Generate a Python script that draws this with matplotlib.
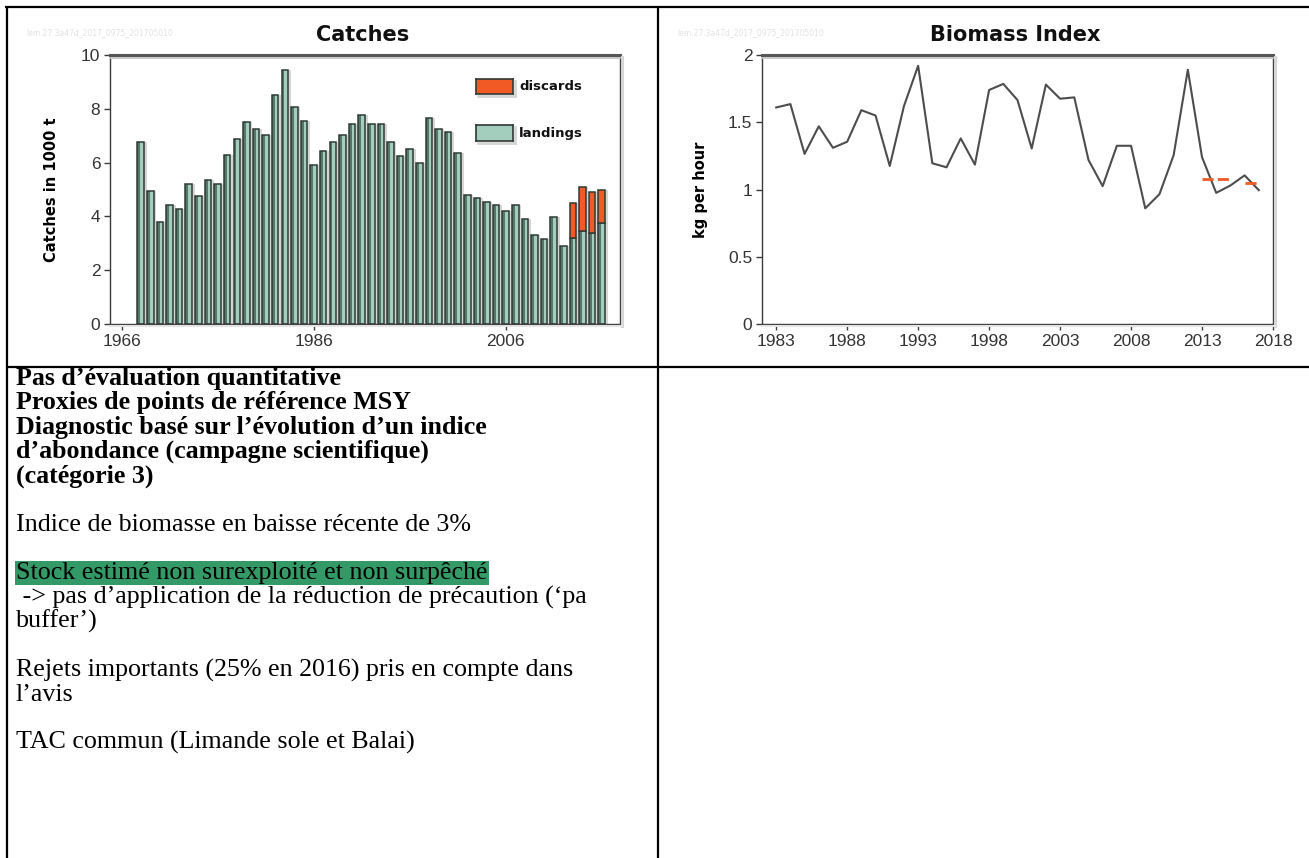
import numpy as np
import matplotlib.pyplot as plt
from matplotlib import font_manager
from matplotlib.lines import Line2D

# catches (1000 t)
catch_years = np.arange(1968, 2017)
landings = [6.75, 4.95, 3.81, 4.43, 4.27, 5.20, 4.74, 5.36, 5.22, 6.27,
            6.89, 7.50, 7.26, 7.02, 8.50, 9.46, 8.07, 7.56, 5.90, 6.44,
            6.75, 7.03, 7.45, 7.77, 7.43, 7.43, 6.75, 6.25, 6.49, 6.00,
            7.67, 7.26, 7.15, 6.37, 4.80, 4.69, 4.53, 4.43, 4.20, 4.43,
            3.90, 3.32, 3.16, 3.96, 2.91, 3.19, 3.44, 3.38, 3.75]
discard_years = [2013, 2014, 2015, 2016]
discards = [1.29, 1.67, 1.51, 1.25]
catch_xticks = [1966, 1986, 2006]
catch_yticks = [0, 2, 4, 6, 8, 10]

# survey biomass index (kg per hour)
index_years = np.arange(1983, 2018)
biomass = [1.61, 1.635, 1.265, 1.47, 1.31, 1.355, 1.59, 1.55, 1.175, 1.62,
           1.92, 1.195, 1.165, 1.38, 1.185, 1.74, 1.785, 1.665, 1.305, 1.78,
           1.675, 1.685, 1.22, 1.025, 1.325, 1.325, 0.86, 0.965, 1.255, 1.89,
           1.24, 0.975, 1.03, 1.105, 0.995]
index_xticks = [1983, 1988, 1993, 1998, 2003, 2008, 2013, 2018]
index_yticks = [0, 0.5, 1, 1.5, 2]
index_ylabels = ["0", "0.5", "1", "1.5", "2"]

stamp = "lem.27.3a47d_2017_0975_201705010"

# text of the advice summary cell: (line, bold, highlighted)
summary = [
    ("Pas d’évaluation quantitative", True, False),
    ("Proxies de points de référence MSY", True, False),
    ("Diagnostic basé sur l’évolution d’un indice", True, False),
    ("d’abondance (campagne scientifique)", True, False),
    ("(catégorie 3)", True, False),
    ("", False, False),
    ("Indice de biomasse en baisse récente de 3%", False, False),
    ("", False, False),
    ("Stock estimé non surexploité et non surpêché", False, True),
    (" -> pas d’application de la réduction de précaution (‘pa", False, False),
    ("buffer’)", False, False),
    ("", False, False),
    ("Rejets importants (25% en 2016) pris en compte dans", False, False),
    ("l’avis", False, False),
    ("", False, False),
    ("TAC commun (Limande sole et Balai)", False, False),
]

W, H = 1309, 858
installed = {f.name for f in font_manager.fontManager.ttflist}
narrow = next((f for f in ["Liberation Sans Narrow", "Liberation Sans"]
               if f in installed), "DejaVu Sans")

LIGHT = "#a3cebd"
DARK = "#55776a"
EDGE = "#2f3a35"
ORANGE = "#f15a24"
SHADOW = "#d6d6d6"

fig = plt.figure(figsize=(W / 100, H / 100), dpi=100)


def rect(x0, y0, x1, y1):
    return [x0 / W, 1 - y1 / H, (x1 - x0) / W, (y1 - y0) / H]


def fig_line(x0, y0, x1, y1, **kw):
    fig.add_artist(Line2D([x0 / W, x1 / W], [1 - y0 / H, 1 - y1 / H],
                          transform=fig.transFigure, **kw))


def style_frame(ax, box):
    x0, y0, x1, y1 = box
    for side in ["left", "bottom", "right"]:
        ax.spines[side].set_color("#3a3a3a")
        ax.spines[side].set_linewidth(1.0)
    ax.spines["top"].set_color("#555555")
    ax.spines["top"].set_linewidth(2.2)
    # soft drop shadow on the frame
    fig_line(x0, y0 + 2.5, x1, y0 + 2.5, color="#c4c4c4", lw=1.3)
    fig_line(x1 + 2, y0 + 2, x1 + 2, y1 + 2, color=SHADOW, lw=2.2)
    fig_line(x0, y1 + 2, x1 + 2, y1 + 2, color="#e4e4e4", lw=1.5)
    ax.tick_params(length=4, width=1, color="#3a3a3a", labelcolor="#333333",
                   pad=3)
    for lab in ax.get_xticklabels() + ax.get_yticklabels():
        lab.set_fontfamily(narrow)
        lab.set_fontsize(12.5)


# ---- Catches ----
cbox = (110, 55, 620, 324)
ax = fig.add_axes(rect(*cbox))
w = 0.68
totals = np.array(landings, dtype=float)
land_d = [landings[list(catch_years).index(y)] for y in discard_years]
tot_d = [l + d for l, d in zip(land_d, discards)]
ax.bar(catch_years + 0.28, totals, width=w, color=SHADOW, zorder=1)
ax.bar(np.array(discard_years) + 0.28, tot_d, width=w, color=SHADOW, zorder=1)
ax.bar(catch_years - w / 2, totals, width=w * 0.45, align="edge", color=DARK,
       zorder=2)
ax.bar(catch_years - w / 2 + w * 0.45, totals, width=w * 0.55, align="edge",
       color=LIGHT, zorder=2)
ax.bar(catch_years, totals, width=w, facecolor="none", edgecolor=EDGE,
       linewidth=1.1, zorder=3)
ax.bar(discard_years, discards, bottom=land_d, width=w, color=ORANGE,
       edgecolor=EDGE, linewidth=1.1, zorder=3)
ax.set_xlim(1964.8, 2017.9)
ax.set_ylim(0, 10)
ax.set_xticks(catch_xticks)
ax.set_yticks(catch_yticks)
style_frame(ax, cbox)
ax.set_ylabel("Catches in 1000 t", fontsize=10.5, fontweight="bold",
              labelpad=16)

# legend boxes
for (y0, y1), col, lab in [((79, 94), ORANGE, "discards"),
                           ((125, 141), LIGHT, "landings")]:
    lax = fig.add_axes(rect(476, y0, 513, y1))
    lax.set_facecolor(col)
    for s in lax.spines.values():
        s.set_color(EDGE)
        s.set_linewidth(1.2)
    lax.set_xticks([])
    lax.set_yticks([])
    fig_line(478, y1 + 1.5, 515, y1 + 1.5, color=SHADOW, lw=2)
    fig_line(514.5, y0 + 2, 514.5, y1 + 2, color=SHADOW, lw=2)
    fig.text(519 / W, 1 - (y0 + y1) / 2 / H, lab, fontsize=9.5,
             fontweight="bold", va="center", ha="left", color="#111111")

fig.text(363 / W, 1 - 35 / H, "Catches", fontsize=15, fontweight="bold",
         ha="center", va="center", color="#111111")
fig.text(26 / W, 1 - 33 / H, stamp, fontsize=5.5, color="#e2e2e2",
         va="center")

# ---- Biomass Index ----
bbox_ = (762, 55, 1273, 324)
bx = fig.add_axes(rect(*bbox_))
bx.plot(index_years, biomass, color="#4d4d4d", lw=1.5, zorder=3)
bio = dict(zip(index_years, biomass))
ref_years = [2013, 2014, 2015]
last_years = [2016, 2017]
ref_mean = np.mean([bio[y] for y in ref_years])
last_mean = np.mean([bio[y] for y in last_years])
bx.plot([ref_years[0], ref_years[-1]], [ref_mean, ref_mean], color=ORANGE,
        lw=2, dashes=(4, 1.5), zorder=4)
bx.plot([last_years[0], last_years[-1]], [last_mean, last_mean], color=ORANGE,
        lw=2, dashes=(4, 1.5), zorder=4)
bx.set_xlim(1982, 2018)
bx.set_ylim(0, 2)
bx.set_xticks(index_xticks)
bx.set_yticks(index_yticks)
bx.set_yticklabels(index_ylabels)
style_frame(bx, bbox_)
bx.set_ylabel("kg per hour", fontsize=10.5, fontweight="bold", labelpad=14)

fig.text(1015 / W, 1 - 35 / H, "Biomass Index", fontsize=15,
         fontweight="bold", ha="center", va="center", color="#111111")
fig.text(677 / W, 1 - 33 / H, stamp, fontsize=5.5, color="#e2e2e2",
         va="center")

# ---- table grid ----
grid = dict(color="black", lw=1.6, solid_capstyle="butt")
fig_line(5, 6.5, W, 6.5, **grid)
fig_line(6.5, 6, 6.5, H, **grid)
fig_line(657.5, 6, 657.5, H, **grid)
fig_line(6, 367, W, 367, **grid)

# ---- summary text ----
y = 385
for line, bold, hl in summary:
    if line:
        kw = dict(fontsize=18.7, family="Liberation Serif", color="black",
                  fontweight="bold" if bold else "normal", va="baseline",
                  ha="left")
        if hl:
            kw["bbox"] = dict(boxstyle="square,pad=0.04", facecolor="#339966",
                              edgecolor="none")
        fig.text(16 / W, 1 - y / H, line, **kw)
    y += 24.27

fig.savefig("out.png", dpi=100)
